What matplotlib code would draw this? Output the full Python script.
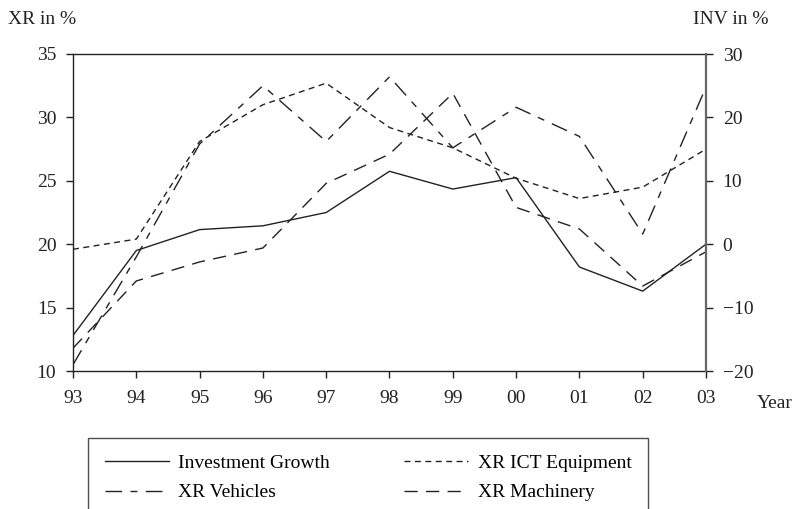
import matplotlib.pyplot as plt

plt.rcParams['font.family'] = ['Liberation Serif', 'DejaVu Serif']

years = ['93', '94', '95', '96', '97', '98', '99', '00', '01', '02', '03']
inv_growth = [-14.4, -1.0, 2.3, 2.9, 5.0, 11.5, 8.7, 10.5, -3.6, -7.4, 0.0]
xr_ict = [19.6, 20.4, 28.1, 31.0, 32.7, 29.2, 27.6, 25.2, 23.6, 24.5, 27.5]
xr_vehicles = [10.5, 19.0, 27.9, 32.5, 28.1, 33.2, 27.6, 30.8, 28.5, 20.8, 32.4]
xr_machinery = [11.8, 17.1, 18.6, 19.7, 24.8, 27.1, 31.9, 22.9, 21.2, 16.7, 19.4]

fs = 14
col = '#222222'
x = list(range(len(years)))

fig = plt.figure(figsize=(8.12, 5.09), dpi=100)
ax = fig.add_axes([73/812, 1 - 371/509, (706-73)/812, (371-54)/509])
ax2 = ax.twinx()

l1, = ax2.plot(x, inv_growth, color=col, lw=1.0, label='Investment Growth')
l2, = ax.plot(x, xr_ict, color=col, lw=1.0, dashes=(4.3, 3.2), label='XR ICT Equipment')
l3, = ax.plot(x, xr_vehicles, color=col, lw=1.0, dashes=(12, 6, 5, 6), label='XR Vehicles')
l4, = ax.plot(x, xr_machinery, color=col, lw=1.0, dashes=(9.5, 6), label='XR Machinery')

ax.set_xlim(0, 10)
ax.set_ylim(10, 35)
ax2.set_ylim(-20, 30)
ax.set_xticks(x)
ax.set_xticklabels(years)
ax.set_yticks([10, 15, 20, 25, 30, 35])
ax2.set_yticks([-20, -10, 0, 10, 20, 30])
ax2.set_yticklabels(['\u221220', '\u221210', '0', '10', '20', '30'])

ax.tick_params(axis='x', direction='out', length=5, width=1, pad=9, labelsize=fs, colors=col)
ax.tick_params(axis='y', direction='out', length=5, width=1, pad=7, labelsize=fs, colors=col)
ax2.tick_params(axis='y', direction='out', length=5, width=1, pad=7, labelsize=fs, colors=col)

for s in ['left', 'bottom', 'top']:
    ax.spines[s].set_color(col)
    ax.spines[s].set_linewidth(1.0)
    ax2.spines[s].set_visible(False)
ax.spines['right'].set_visible(False)
ax2.spines['right'].set_color('#666666')
ax2.spines['right'].set_linewidth(1.6)

fig.text(8/812, 1 - 20/509, 'XR in %', fontsize=fs, va='center', ha='left', color=col)
fig.text(731/812, 1 - 20/509, 'INV in %', fontsize=fs, va='center', ha='center', color=col)
fig.text(757/812, 1 - 404/509, 'Year', fontsize=fs, va='center', ha='left', color=col)

# row order: Investment/ICT on top, Vehicles/Machinery below
leg = fig.legend(handles=[l1, l3, l2, l4], ncol=2, loc='upper left',
                 bbox_to_anchor=(88/812, 1 - 438/509),
                 borderaxespad=0, fontsize=fs, frameon=True,
                 fancybox=False, edgecolor=col, handlelength=3.3,
                 handletextpad=0.5, borderpad=0.85, labelspacing=0.6,
                 columnspacing=3.8)
leg.get_frame().set_linewidth(1.0)

fig.savefig('out.png', dpi=100)
